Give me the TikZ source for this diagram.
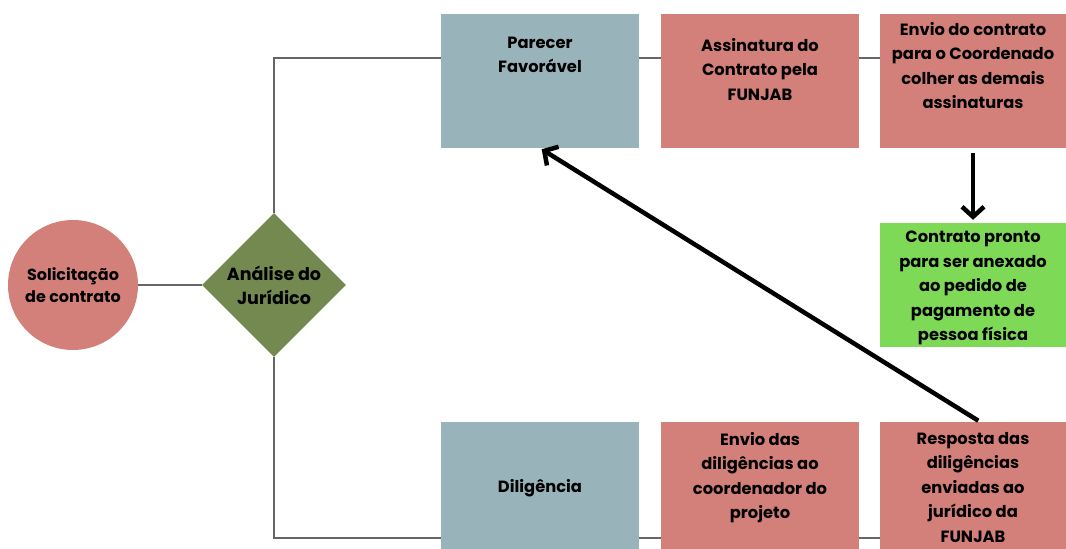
\documentclass[tikz,border=0pt]{standalone}
\usepackage{fontspec}
\setmainfont{Poppins}
\usetikzlibrary{shapes.geometric,arrows.meta,positioning}
\definecolor{salmon}{HTML}{D3807A}
\definecolor{bluegray}{HTML}{98B3B9}
\definecolor{olive}{HTML}{73894F}
\definecolor{leaf}{HTML}{7ED957}
\begin{document}
\begin{tikzpicture}[x=1pt, y=1pt,
    box/.style={rectangle, minimum width=198pt, minimum height=134pt, inner sep=0pt},
    txt/.style={align=center, font=\bfseries\fontsize{16.3}{24.5}\selectfont, inner sep=0pt},
    link/.style={draw=black!60, line width=1.2pt},
    bigarrow/.style={line width=4.5pt, -{Straight Barb[length=10pt, width=22pt, line width=4.5pt]}}]
    \useasboundingbox (0,0) rectangle (1066,549);
    % start and decision
    \node[circle, fill=salmon, minimum size=130pt, txt, font=\bfseries\fontsize{16}{22}\selectfont] (solic) at (73,264) {Solicitação\\de contrato};
    \node[diamond, aspect=1, fill=olive, minimum width=144pt, minimum height=144pt, txt, font=\bfseries\fontsize{17.5}{24}\selectfont] (analise) at (274,264) {Análise do\\Jurídico};
    % upper branch
    \node[box, fill=bluegray] (parecer) at (540,468) {};
    \node[txt, below=23pt of parecer.north] (parecertxt) {Parecer\\Favorável};
    \node[box, fill=salmon] (assin) at (760,468) {};
    \node[txt, below=24pt of assin.north] (assintxt) {Assinatura do\\Contrato pela\\FUNJAB};
    \node[box, fill=salmon, minimum width=186pt] (envio) at (973,468) {};
    \node[txt, below=8pt of envio.north] (enviotxt) {Envio do contrato\\para o Coordenado\\colher as demais\\assinaturas};
    \node[box, fill=leaf, minimum width=186pt, minimum height=124pt] (pronto) at (973,264) {};
    \node[txt, below=8pt of pronto.north] (prontotxt) {Contrato pronto\\para ser anexado\\ao pedido de\\pagamento de\\pessoa física};
    % lower branch
    \node[box, fill=bluegray] (dilig) at (540,60) {};
    \node[txt, below=57pt of dilig.north] (diligtxt) {Diligência};
    \node[box, fill=salmon] (envdil) at (760,60) {};
    \node[txt, below=10pt of envdil.north] (envdiltxt) {Envio das\\diligências ao\\coordenador do\\projeto};
    \node[box, fill=salmon, minimum width=186pt] (resp) at (973,60) {};
    \node[txt, below=10pt of resp.north] (resptxt) {Resposta das\\diligências\\enviadas ao\\jurídico da\\FUNJAB};
    % connectors
    \draw[link] (solic) -- (analise);
    \draw[link] (analise.north) |- ([yshift=23pt]parecer.west);
    \draw[link] (analise.south) |- ([yshift=-49pt]dilig.west);
    \draw[link] ([yshift=23pt]parecer.east) -- ([yshift=23pt]assin.west);
    \draw[link] ([yshift=23pt]assin.east) -- ([yshift=23pt]envio.west);
    \draw[link] ([yshift=-49pt]dilig.east) -- ([yshift=-49pt]envdil.west);
    \draw[link] ([yshift=-49pt]envdil.east) -- ([yshift=-49pt]resp.west);
    \draw[bigarrow, shorten <=5pt, shorten >=3pt] (envio.south) -- (pronto.north);
    \draw[bigarrow, shorten <=2pt, shorten >=2pt] ([xshift=7pt]resp.north) -- (parecer.south);
\end{tikzpicture}
\end{document}
